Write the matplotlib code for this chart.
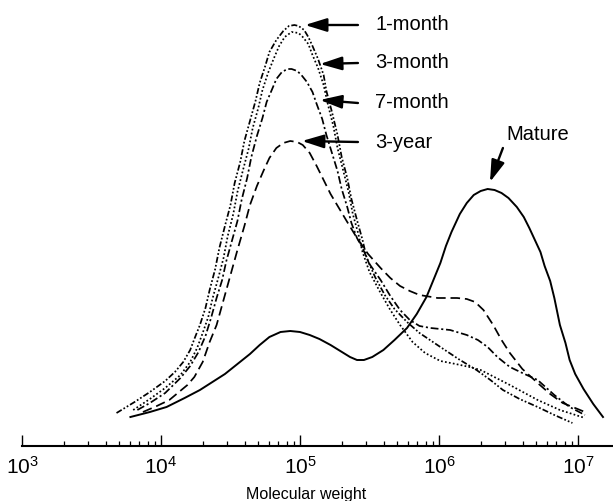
import numpy as np
import matplotlib
matplotlib.use("Agg")
import matplotlib.pyplot as plt

plt.rcParams['font.family'] = ['Liberation Sans', 'DejaVu Sans']
plt.rcParams['mathtext.fontset'] = 'custom'
plt.rcParams['mathtext.rm'] = 'Liberation Sans'
plt.rcParams['mathtext.it'] = 'Liberation Sans:italic'
plt.rcParams['mathtext.bf'] = 'Liberation Sans:bold'

# ---------------- data (log10 molecular weight, relative amount) ----------------
m1_logmw = [3.68, 3.81, 3.92, 4.03, 4.10, 4.16, 4.21, 4.24, 4.28, 4.32, 4.35, 4.39, 4.42, 4.46,
            4.50, 4.53, 4.57, 4.60, 4.64, 4.68, 4.71, 4.75, 4.78, 4.83, 4.88, 4.92, 4.96,
            4.99, 5.03, 5.06, 5.09, 5.13, 5.17, 5.19, 5.23, 5.27, 5.30, 5.34, 5.37, 5.41,
            5.45, 5.48, 5.54, 5.61, 5.68, 5.77, 5.86, 6.01, 6.14, 6.27, 6.37, 6.46, 6.58,
            6.71, 6.83, 6.96]
m1_val = [33, 44, 54, 65, 74, 84, 96, 107, 121, 138, 156, 177, 198, 220,
          241, 263, 284, 305, 325, 345, 363, 380, 394, 406, 415, 420, 421,
          420, 416, 409, 400, 387, 371, 355, 334, 311, 289, 268, 247, 226,
          206, 188, 169, 151, 137, 124, 113, 99, 87, 76, 66, 56, 47,
          39, 31, 23]

m3_logmw = [3.80, 3.92, 4.03, 4.14, 4.21, 4.26, 4.30, 4.34, 4.37, 4.41, 4.45, 4.48, 4.52, 4.55,
            4.59, 4.63, 4.66, 4.70, 4.73, 4.77, 4.81, 4.85, 4.89, 4.94,
            4.99, 5.02, 5.06, 5.09, 5.13, 5.17, 5.20, 5.24, 5.27, 5.31, 5.35, 5.38, 5.42,
            5.45, 5.50, 5.58, 5.65, 5.72, 5.81, 5.90, 6.01, 6.12, 6.22, 6.30, 6.37, 6.51,
            6.71, 6.87, 7.05]
m3_val = [36, 47, 58, 71, 84, 98, 113, 129, 147, 167, 188, 210, 232, 254,
          276, 297, 318, 338, 356, 373, 387, 400, 409, 414,
          413, 409, 402, 391, 378, 361, 342, 320, 298, 276, 254, 232, 212,
          194, 174, 153, 136, 121, 104, 93, 85, 82, 79, 76, 71, 61,
          46, 36, 28]

m7_logmw = [3.83, 3.92, 4.03, 4.14, 4.21, 4.27, 4.32, 4.36, 4.40, 4.44, 4.47, 4.51, 4.55, 4.58,
            4.62, 4.65, 4.69, 4.73, 4.76, 4.80, 4.83, 4.87, 4.91,
            4.94, 4.98, 5.01, 5.05, 5.09, 5.12, 5.16, 5.19, 5.23, 5.27, 5.30, 5.34, 5.37,
            5.41, 5.45, 5.50, 5.58, 5.65, 5.72, 5.79, 5.86, 5.94, 6.08, 6.20, 6.28, 6.35,
            6.42, 6.51, 6.60, 6.71, 6.83, 6.94, 7.05]
m7_val = [36, 43, 53, 68, 80, 94, 110, 128, 148, 166, 185, 205, 225, 246,
          268, 289, 310, 328, 344, 357, 367, 374, 377,
          377, 375, 371, 364, 354, 342, 327, 311, 293, 275, 257, 239, 223,
          208, 198, 182, 166, 150, 136, 126, 120, 118, 116, 111, 106, 99,
          89, 79, 73, 66, 51, 39, 31]

y3_logmw = [3.87, 3.97, 4.06, 4.19, 4.24, 4.30, 4.35, 4.40, 4.45, 4.50, 4.55, 4.60, 4.64,
            4.69, 4.74, 4.78, 4.83, 4.88, 4.93,
            4.98, 5.02, 5.07, 5.12, 5.17, 5.22, 5.28, 5.34, 5.41, 5.49, 5.58, 5.65, 5.72, 5.79,
            5.86, 5.99, 6.13, 6.20, 6.26, 6.32, 6.39, 6.45, 6.51, 6.60, 6.71, 6.80, 6.89,
            6.98, 7.05]
y3_val = [34, 40, 46, 61, 69, 84, 104, 121, 146, 171, 196, 220, 241,
          260, 276, 288, 298, 303, 305,
          304, 301, 293, 280, 266, 252, 238, 224, 208, 192, 178, 168, 160, 155,
          151, 148, 148, 147, 144, 136, 121, 106, 93, 77, 63, 52, 43,
          38, 34]

mat_logmw = [3.78, 3.92, 4.04, 4.17, 4.28, 4.37, 4.46, 4.55, 4.64, 4.71,
             4.78, 4.86, 4.93, 5.00, 5.07, 5.14, 5.22, 5.29, 5.36, 5.41,
             5.46, 5.52, 5.60, 5.68, 5.77, 5.84, 5.91, 5.96, 6.01, 6.05,
             6.09, 6.15, 6.20, 6.25, 6.30, 6.35, 6.40, 6.45, 6.50, 6.56,
             6.61, 6.65, 6.69, 6.73, 6.76, 6.80, 6.83, 6.87, 6.91, 6.94,
             6.98, 7.04, 7.11, 7.18]
mat_val = [29, 34, 39, 48, 56, 64, 72, 82, 92, 101,
           109, 114, 115, 114, 111, 107, 101, 95, 89, 86,
           86, 89, 96, 106, 118, 132, 149, 166, 183, 200,
           214, 232, 243, 251, 255, 257, 256, 253, 248, 239,
           229, 218, 206, 194, 180, 165, 148, 121, 103, 86,
           72, 57, 42, 29]

series_labels = ['1-month', '3-month', '7-month', '3-year']

# ---------------- styling / layout ----------------
styles = {
    '1-month': (0, (3.5, 1.2, 1.0, 1.2, 1.0, 1.2)),
    '3-month': (0, (1.0, 1.3)),
    '7-month': (0, (4.5, 1.6, 1.2, 1.6)),
    '3-year': (0, (5.5, 2.8)),
}
# annotation layout: (text log-x, text y, arrow tail log-x, arrow tip log-x, arrow tip y)
label_layout = {
    '1-month': (5.54, 421, 5.417, 5.036, 421),
    '3-month': (5.54, 383, 5.417, 5.144, 382),
    '7-month': (5.54, 343, 5.417, 5.144, 346),
    '3-year': (5.54, 304, 5.417, 5.014, 305),
}

fig = plt.figure(figsize=(6.13, 5.01), dpi=100)
ax = fig.add_axes([22 / 613, 55 / 501, 591 / 613, 436 / 501])

data = {
    '1-month': (m1_logmw, m1_val),
    '3-month': (m3_logmw, m3_val),
    '7-month': (m7_logmw, m7_val),
    '3-year': (y3_logmw, y3_val),
}
for name in series_labels:
    lx, v = data[name]
    ax.plot(10 ** np.array(lx), v, color='black', lw=1.25, linestyle=styles[name],
            dash_capstyle='butt', solid_joinstyle='round')
ax.plot(10 ** np.array(mat_logmw), mat_val, color='black', lw=1.4, linestyle='-',
        solid_joinstyle='round')

arrow_kw = dict(arrowstyle='-|>,head_length=1.1,head_width=0.34', color='black',
                lw=1.7, mutation_scale=12, shrinkA=0, shrinkB=0)
for name in series_labels:
    tx, ty, ax0, tipx, tipy = label_layout[name]
    ax.text(10 ** tx, ty, name, fontsize=14.5, va='center', ha='left')
    ax.annotate('', xy=(10 ** tipx, tipy), xytext=(10 ** ax0, ty), arrowprops=arrow_kw)

ax.text(10 ** 6.712, 311, 'Mature', fontsize=14.5, va='center', ha='center')
ax.annotate('', xy=(10 ** 6.367, 264), xytext=(10 ** 6.460, 298), arrowprops=arrow_kw)

ax.set_xscale('log')
ax.set_xlim(1e3, 10 ** 7.252)
ax.set_ylim(0, 436)
for s in ['top', 'right', 'left']:
    ax.spines[s].set_visible(False)
ax.spines['bottom'].set_linewidth(1.5)
ax.set_yticks([])
ax.tick_params(axis='x', which='major', direction='in', length=8, width=1.0,
               labelsize=15, pad=7)
ax.tick_params(axis='x', which='minor', direction='in', length=3.5, width=0.9)
ax.set_xticks([1e3, 1e4, 1e5, 1e6, 1e7])
ax.set_xlabel('Molecular weight', fontsize=11.5)
ax.xaxis.set_label_coords(0.48, -0.094)
ax.xaxis.label.set_va('top')

fig.savefig('out.png', dpi=100)
